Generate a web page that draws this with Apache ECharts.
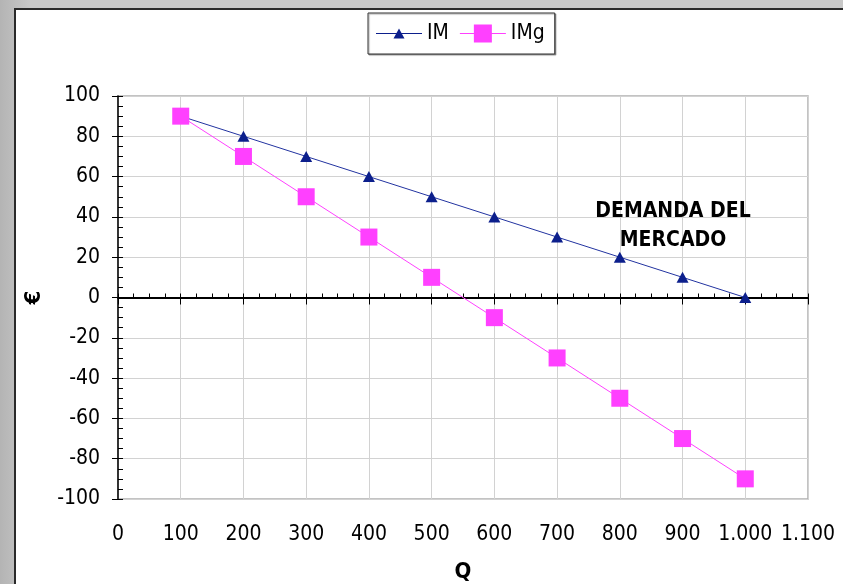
<!DOCTYPE html>
<html>
<head>
<meta charset="utf-8">
<script src="https://cdn.jsdelivr.net/npm/echarts@6/dist/echarts.min.js"></script>
<style>
  html, body { margin: 0; padding: 0; }
  body { width: 843px; height: 584px; background: linear-gradient(to right, #b4b4b4, #c8c8c8 30px); overflow: hidden; position: relative; }
  #frame { position: absolute; left: 14px; top: 8px; width: 829px; height: 576px; background: #ffffff; border-left: 2px solid #2a2a2a; border-top: 2px solid #2a2a2a; }
  #chart { position: absolute; left: 0; top: 0; width: 843px; height: 584px; }
</style>
</head>
<body>
<div id="frame"></div>
<div id="chart"></div>
<script>
// ---- data ----
const quantities = [100, 200, 300, 400, 500, 600, 700, 800, 900, 1000];
const imValues = [90, 80, 70, 60, 50, 40, 30, 20, 10, 0];
const imgValues = [90, 70, 50, 30, 10, -10, -30, -50, -70, -90];
const seriesNames = ['IM', 'IMg'];
const xAxisName = 'Q';
const yAxisName = '€';
const annotationLines = ['DEMANDA DEL', 'MERCADO'];

const FONT = '"DejaVu Sans Condensed", "DejaVu Sans", sans-serif';
const fmtThousands = v => String(v).replace(/\B(?=(\d{3})+(?!\d))/g, '.');

const chart = echarts.init(document.getElementById('chart'), null, { renderer: 'canvas' });

const xBase = { type: 'value', min: 0, max: 1100, interval: 100, position: 'bottom', gridIndex: 0 };
const yBase = { type: 'value', min: -100, max: 100, interval: 20, position: 'left', gridIndex: 0 };

const imIcon = 'path://M0,8.5L46,8.5L46,9.5L0,9.5Z M17.5,14L23,4L28.5,14Z M0,0L0.01,0L0.01,0.01Z M46,18L45.99,18L45.99,17.99Z';
const imgIcon = 'path://M0,8.5L46,8.5L46,9.5L0,9.5Z M14,0L32,0L32,18L14,18Z';

chart.setOption({
  animation: false,
  backgroundColor: 'transparent',
  textStyle: { fontFamily: FONT },
  grid: {
    left: 118, right: 35, top: 96, bottom: 85,
    outerBoundsMode: 'none', containLabel: false,
    show: true, borderColor: '#b0b0b0', borderWidth: 1.5, backgroundColor: 'transparent'
  },
  legend: {
    left: 368, top: 13,
    padding: [10, 10, 10, 8],
    itemGap: 11,
    itemWidth: 46, itemHeight: 18,
    borderColor: '#333', borderWidth: 1,
    backgroundColor: '#fff',
    shadowColor: 'rgba(0,0,0,0.35)', shadowOffsetX: 1, shadowOffsetY: 1, shadowBlur: 1,
    textStyle: { fontFamily: FONT, fontSize: 21, color: '#000' },
    symbolKeepAspect: false,
    data: [
      { name: seriesNames[0], icon: imIcon, itemStyle: { color: '#0c1f8c', borderWidth: 0 } },
      { name: seriesNames[1], icon: imgIcon, itemStyle: { color: '#ff40ff', borderWidth: 0 } }
    ]
  },
  xAxis: [
    Object.assign({}, xBase, {
      name: xAxisName, nameLocation: 'middle', nameGap: 62,
      nameTextStyle: { fontFamily: FONT, fontWeight: 'bold', fontSize: 22, color: '#000' },
      axisLine: { show: false, onZero: false },
      axisTick: { show: false },
      axisLabel: { show: true, margin: 25, fontFamily: FONT, fontSize: 21, color: '#000', formatter: fmtThousands },
      splitLine: { show: true, lineStyle: { color: '#d2d2d2', width: 1 } }
    }),
    Object.assign({}, xBase, {
      axisLine: { show: true, onZero: true, onZeroAxisIndex: 0, lineStyle: { color: '#000', width: 2 } },
      axisTick: { show: true, inside: true, length: 4, lineStyle: { color: '#000', width: 1 } },
      minorTick: { show: true, splitNumber: 4, length: 4, lineStyle: { color: '#000', width: 1 } },
      axisLabel: { show: false },
      splitLine: { show: false }
    }),
    Object.assign({}, xBase, {
      axisLine: { show: false, onZero: true, onZeroAxisIndex: 0 },
      axisTick: { show: true, inside: false, length: 7, lineStyle: { color: '#000', width: 1 } },
      axisLabel: { show: false },
      splitLine: { show: false }
    })
  ],
  yAxis: [
    Object.assign({}, yBase, {
      name: yAxisName, nameLocation: 'middle', nameGap: 73, nameRotate: 90,
      nameTextStyle: { fontFamily: FONT, fontWeight: 'bold', fontSize: 22, color: '#000' },
      axisLine: { show: true, onZero: false, lineStyle: { color: '#000', width: 1.5 } },
      axisTick: { show: true, inside: false, length: 6, lineStyle: { color: '#000', width: 1 } },
      axisLabel: { show: true, margin: 18, fontFamily: FONT, fontSize: 21, color: '#000' },
      splitLine: { show: true, lineStyle: { color: '#d2d2d2', width: 1 } }
    }),
    Object.assign({}, yBase, {
      axisLine: { show: false, onZero: false },
      axisTick: { show: true, inside: true, length: 5, lineStyle: { color: '#000', width: 1 } },
      minorTick: { show: true, splitNumber: 4, length: 5, lineStyle: { color: '#000', width: 1 } },
      axisLabel: { show: false },
      splitLine: { show: false }
    })
  ],
  series: [
    {
      name: seriesNames[0], type: 'line', xAxisIndex: 0, yAxisIndex: 0,
      data: quantities.map((q, i) => [q, imValues[i]]),
      symbol: 'triangle', symbolSize: [12, 11],
      itemStyle: { color: '#0c1f8c' },
      lineStyle: { color: '#2233a0', width: 1 },
      z: 3
    },
    {
      name: seriesNames[1], type: 'line', xAxisIndex: 0, yAxisIndex: 0,
      data: quantities.map((q, i) => [q, imgValues[i]]),
      symbol: 'rect', symbolSize: 17,
      itemStyle: { color: '#ff40ff' },
      lineStyle: { color: '#ff40ff', width: 1 },
      z: 4
    }
  ],
  graphic: [
    {
      type: 'text', x: 673, y: 197, z: 10,
      style: {
        text: annotationLines.join('\n'),
        fontFamily: FONT, fontWeight: 'bold', fontSize: 21, lineHeight: 29,
        fill: '#000', align: 'center', verticalAlign: 'top'
      }
    }
  ]
});
</script>
</body>
</html>
